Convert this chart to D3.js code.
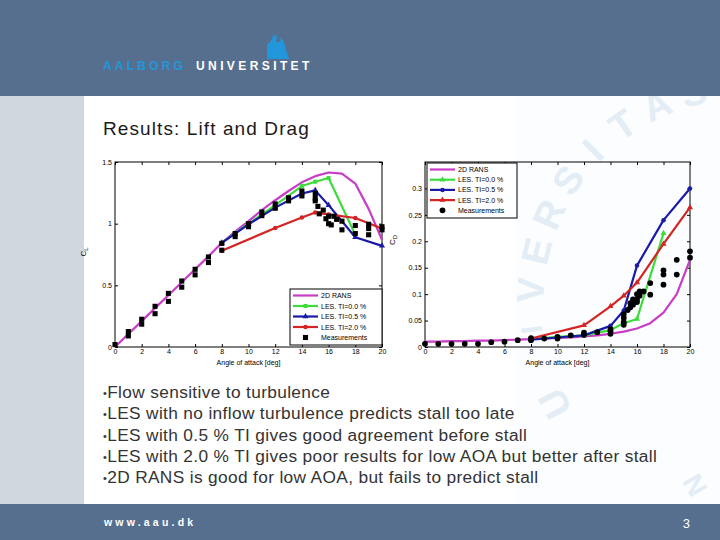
<!DOCTYPE html>
<html><head><meta charset="utf-8">
<script src="https://cdn.jsdelivr.net/npm/d3@7"></script>
<style>body{margin:0;background:#fff;} svg{display:block;font-family:Arial,"Liberation Sans",sans-serif;}</style>
</head><body><svg id="s" width="720" height="540"></svg>
<script>
// ---------- data ----------
const xTicks = [0,2,4,6,8,10,12,14,16,18,20];
const clTicks = [0,0.5,1,1.5];
const cdTicks = [0,0.05,0.1,0.15,0.2,0.25,0.3];
const seriesNames = ["2D RANS","LES. TI=0.0 %","LES. TI=0.5 %","LES. TI=2.0 %","Measurements"];
const seriesColors = ["#c83cc8","#3cdc3c","#1a1aa8","#d42424","#000000"];

const ransAoA = [0,1,2,3,4,5,6,7,8,9,10,11,12,13,14,15,16,17,18,19,20];
const ransCL  = [0,0.105,0.21,0.315,0.42,0.525,0.63,0.735,0.845,0.935,1.02,1.11,1.19,1.265,1.335,1.385,1.415,1.405,1.325,1.12,0.87];
const ransCD  = [0.010,0.010,0.011,0.011,0.012,0.012,0.013,0.014,0.015,0.016,0.017,0.018,0.020,0.022,0.025,0.029,0.035,0.045,0.065,0.100,0.165];

const les00AoA = [8,10,12,14,15,16,18];
const les00CL  = [0.845,1.0,1.15,1.305,1.34,1.37,0.91];
const les00CD  = [0.015,0.019,0.022,0.032,0.045,0.053,0.215];

const les05AoA = [8,10,12,14,15,16,18,20];
const les05CL  = [0.845,0.995,1.13,1.245,1.27,1.15,0.89,0.82];
const les05CD  = [0.014,0.018,0.022,0.040,0.069,0.154,0.240,0.300];

const les20AoA = [8,12,14,15,16,18,20];
const les20CL  = [0.78,0.965,1.05,1.09,1.075,1.046,0.96];
const les20CD  = [0.016,0.041,0.077,0.097,0.122,0.195,0.264];

const measClAoA = [0,1,1,2,2,3,3,4,4,5,5,6,6,7,7,8,8,9,9,10,10,11,11,12,12,13,13,14,14,15,15,15,15.2,15.3,15.6,15.8,16,16,16.2,16.4,16.6,17,17,18,18,19,19,19,20,20];
const measClVal = [0.02,0.125,0.09,0.225,0.185,0.33,0.27,0.435,0.37,0.535,0.485,0.63,0.585,0.73,0.685,0.84,0.785,0.92,0.895,1.0,0.975,1.095,1.065,1.16,1.125,1.21,1.185,1.265,1.225,1.245,1.205,1.185,1.14,1.08,1.11,1.04,1.0,1.06,0.99,1.06,1.035,1.02,0.95,0.985,0.92,0.995,0.96,0.91,0.975,0.95];

const measCdAoA = [0,1,2,3,4,5,6,7,8,8,9,10,10,11,12,12,13,14,14,14,15,15,15,15,15.3,15.5,15.5,15.7,15.7,16,16,16,16.2,16.2,16.5,17,17,18,18,18,19,19,20,20];
const measCdVal = [0.006,0.006,0.006,0.006,0.006,0.009,0.010,0.013,0.013,0.017,0.016,0.016,0.019,0.022,0.027,0.023,0.028,0.025,0.030,0.034,0.042,0.047,0.055,0.062,0.070,0.083,0.075,0.090,0.080,0.100,0.090,0.085,0.097,0.105,0.105,0.121,0.099,0.145,0.137,0.118,0.165,0.137,0.181,0.169];

const bullets = [
 "Flow sensitive to turbulence",
 "LES with no inflow turbulence predicts stall too late",
 "LES with 0.5 % TI gives good agreement before stall",
 "LES with 2.0 % TI gives poor results for low AOA but better after stall",
 "2D RANS is good for low AOA, but fails to predict stall"
];

// ---------- page ----------
const svg = d3.select("#s");
const bandColor = "#576f8f";
svg.append("rect").attr("x",0).attr("y",0).attr("width",720).attr("height",540).attr("fill","#ffffff");
svg.append("rect").attr("x",515).attr("y",96).attr("width",205).attr("height",408).attr("fill","#fbfdff");
svg.append("rect").attr("x",0).attr("y",96).attr("width",84).attr("height",408).attr("fill","#d1d7df");

// faint seal watermark letters (placed individually on a ring)
const wmLetters = ["U","I","V","E","R","S","I","T","A","S"];
const wmAngles  = [152.5,173,183.4,193.7,204,214.3,224.6,234.9,245.2,255.5];
const wm = svg.append("g");
wmLetters.forEach((ch,i)=>{
  const a = wmAngles[i]*Math.PI/180;
  const px = 748 + 218*Math.cos(a), py = 303 + 218*Math.sin(a);
  wm.append("text").attr("transform",`translate(${px},${py}) rotate(${wmAngles[i]+90})`)
    .attr("text-anchor","middle").attr("dy","0.35em").attr("font-size",i===1?30:38).attr("font-weight","bold")
    .attr("fill","#e3edf6").text(ch);
});
wm.append("text").attr("transform","translate(695,485) rotate(60)").attr("text-anchor","middle")
  .attr("dy","0.35em").attr("font-size",28).attr("font-weight","bold").attr("fill","#e3edf6").text("N");

// header
svg.append("rect").attr("x",0).attr("y",0).attr("width",720).attr("height",96).attr("fill",bandColor);
svg.append("path").attr("d","M267 59 L267 45 L271 41 L273 36 L277 35 L276 42 L280 42 L281 37 L284 42 L286 50 L289 59 Z").attr("fill","#2296da");
svg.append("text").attr("x",103).attr("y",70).attr("font-size",12).attr("font-weight","bold")
  .attr("letter-spacing",3.2).attr("fill","#2296da").text("AALBORG");
svg.append("text").attr("x",196).attr("y",70).attr("font-size",12).attr("font-weight","bold")
  .attr("letter-spacing",3.4).attr("fill","#ffffff").text("UNIVERSITET");

// footer
svg.append("rect").attr("x",0).attr("y",504).attr("width",720).attr("height",36).attr("fill",bandColor);
svg.append("text").attr("x",104).attr("y",526).attr("font-size",10.5).attr("font-weight","bold")
  .attr("letter-spacing",3.2).attr("fill","#ffffff").text("www.aau.dk");
svg.append("text").attr("x",690).attr("y",528).attr("font-size",13).attr("text-anchor","end")
  .attr("fill","#ffffff").text("3");

// title
svg.append("text").attr("x",103).attr("y",135).attr("font-size",19).attr("letter-spacing",1.1).attr("fill","#1a1a1a")
  .text("Results: Lift and Drag");

// bullets
bullets.forEach((b,i)=>{
  const t = svg.append("text").attr("x",103).attr("y",398 + i*21.3).attr("font-size",17.3)
    .attr("letter-spacing",0.35).attr("fill","#333333");
  t.append("tspan").attr("font-size",11).attr("dy",-1).text("•");
  t.append("tspan").attr("dy",1).text(b);
});

// ---------- charts ----------
function chart(opt){
  const g = svg.append("g");
  const x = d3.scaleLinear([0,20],[opt.x0,opt.x1]);
  const y = d3.scaleLinear(opt.ydom,[347,162]);
  const fs = 7;
  const ax = g.append("g").attr("transform",`translate(0,347)`)
    .call(d3.axisBottom(x).tickValues(xTicks).tickSizeInner(-3).tickSizeOuter(0).tickPadding(2).tickFormat(d3.format("d")));
  const at = g.append("g").attr("transform",`translate(0,162)`)
    .call(d3.axisTop(x).tickValues(xTicks).tickSizeInner(-3).tickSizeOuter(0).tickFormat(""));
  const ay = g.append("g").attr("transform",`translate(${opt.x0},0)`)
    .call(d3.axisLeft(y).tickValues(opt.yticks).tickSizeInner(-3).tickSizeOuter(0).tickPadding(3).tickFormat(d=>String(d)));
  const ar = g.append("g").attr("transform",`translate(${opt.x1},0)`)
    .call(d3.axisRight(y).tickValues(opt.yticks).tickSizeInner(-3).tickSizeOuter(0).tickFormat(""));
  [ax,at,ay,ar].forEach(a=>{
    a.select(".domain").remove();
    a.selectAll("text").attr("font-size",fs).attr("font-family","Arial,'Liberation Sans',sans-serif").attr("fill","#000");
    a.selectAll("line").attr("stroke","#000");
  });
  g.append("rect").attr("x",opt.x0).attr("y",162).attr("width",opt.x1-opt.x0).attr("height",185)
    .attr("fill","none").attr("stroke","#000").attr("stroke-width",1);
  g.append("text").attr("x",(opt.x0+opt.x1)/2).attr("y",365).attr("text-anchor","middle")
    .attr("font-size",fs).text("Angle of attack [deg]");
  const yl = g.append("text").attr("transform",`translate(${opt.ylx},${opt.yly}) rotate(-90)`)
    .attr("text-anchor","middle").attr("font-size",8);
  yl.append("tspan").text("C");
  yl.append("tspan").attr("font-size",6).attr("dy",2).text(opt.sub);

  const line = d3.line().x(d=>x(d[0])).y(d=>y(d[1]));
  const sets = [[ransAoA,opt.rans],[les00AoA,opt.l00],[les05AoA,opt.l05],[les20AoA,opt.l20]];
  const markerSym = opt.markers;
  sets.forEach((s,i)=>{
    const pts = s[0].map((a,k)=>[a,s[1][k]]);
    g.append("path").datum(pts).attr("d",line).attr("fill","none")
      .attr("stroke",seriesColors[i]).attr("stroke-width",2.2).attr("stroke-linejoin","round");
    if(i>0){
      g.selectAll(null).data(pts).enter().append("path")
        .attr("transform",d=>`translate(${x(d[0])},${y(d[1])})`)
        .attr("d",d3.symbol().type(markerSym[i-1]).size(16)).attr("fill",seriesColors[i]);
    }
  });
  const mp = opt.mAoA.map((a,k)=>[a,opt.mVal[k]]);
  g.selectAll(null).data(mp).enter().append("path")
    .attr("transform",d=>`translate(${x(d[0])},${y(d[1])})`)
    .attr("d",d3.symbol().type(opt.mSym).size(opt.mSize)).attr("fill","#000");

  // legend
  const L = opt.leg;
  const lg = g.append("g");
  lg.append("rect").attr("x",L.x).attr("y",L.y).attr("width",L.w).attr("height",L.h)
    .attr("fill","#fff").attr("stroke","#000").attr("stroke-width",1);
  seriesNames.forEach((n,i)=>{
    const yy = L.y + 6.5 + i*L.dy;
    if(i<4){
      lg.append("line").attr("x1",L.x+3).attr("x2",L.x+28).attr("y1",yy).attr("y2",yy)
        .attr("stroke",seriesColors[i]).attr("stroke-width",2.2);
    }
    if(i>0 && i<4){
      lg.append("path").attr("transform",`translate(${L.x+15.5},${yy})`)
        .attr("d",d3.symbol().type(markerSym[i-1]).size(16)).attr("fill",seriesColors[i]);
    }
    if(i===4){
      lg.append("path").attr("transform",`translate(${L.x+15.5},${yy})`)
        .attr("d",d3.symbol().type(opt.mSym).size(opt.mSize)).attr("fill","#000");
    }
    lg.append("text").attr("x",L.x+31).attr("y",yy+2.5).attr("font-size",7).text(n);
  });
}

chart({x0:115,x1:382,ydom:[0,1.5],yticks:clTicks,rans:ransCL,l00:les00CL,l05:les05CL,l20:les20CL,
  mAoA:measClAoA,mVal:measClVal,mSym:d3.symbolSquare,mSize:26,markers:[d3.symbolSquare,d3.symbolTriangle,d3.symbolCircle],
  ylx:86,yly:252,sub:"L",leg:{x:290,y:289,w:92,h:56,dy:10.5}});
chart({x0:425,x1:690,ydom:[0,0.35],yticks:cdTicks,rans:ransCD,l00:les00CD,l05:les05CD,l20:les20CD,
  mAoA:measCdAoA,mVal:measCdVal,mSym:d3.symbolCircle,mSize:26,markers:[d3.symbolTriangle,d3.symbolCircle,d3.symbolTriangle],
  ylx:395,yly:240,sub:"D",leg:{x:427,y:163,w:90,h:55,dy:10.2}});
</script></body></html>
